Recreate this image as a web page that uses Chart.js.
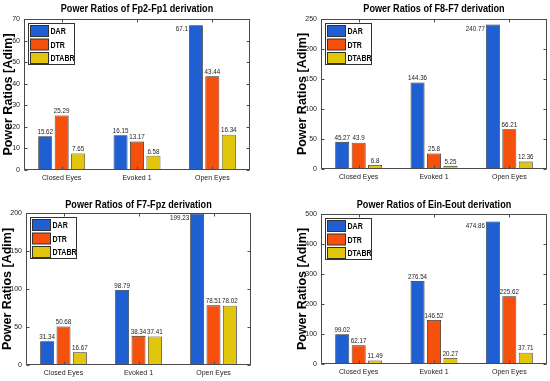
<!DOCTYPE html>
<html><head><meta charset="utf-8">
<script src="https://cdn.jsdelivr.net/npm/chart.js@4.4.1/dist/chart.umd.min.js"></script>
<style>
html,body{margin:0;padding:0;background:#fff;width:550px;height:381px;overflow:hidden;position:relative}
canvas{position:absolute}
</style></head><body>
<canvas id="c1" width="275" height="190" style="left:0;top:0;width:275px;height:190px"></canvas>
<canvas id="c2" width="275" height="190" style="left:275px;top:0;width:275px;height:190px"></canvas>
<canvas id="c3" width="275" height="191" style="left:0;top:190px;width:275px;height:191px"></canvas>
<canvas id="c4" width="275" height="191" style="left:275px;top:190px;width:275px;height:191px"></canvas>
<script>
// ---------- data ----------
const categories = ['Closed Eyes', 'Evoked 1', 'Open Eyes'];
const seriesNames = ['DAR', 'DTR', 'DTABR'];
const yAxisTitle = 'Power Ratios [Adim]';

const fp2Fp1Title = 'Power Ratios of Fp2-Fp1 derivation';
const fp2Fp1DAR = [15.62, 16.15, 67.1];
const fp2Fp1DTR = [25.29, 13.17, 43.44];
const fp2Fp1DTABR = [7.65, 6.58, 16.34];
const fp2Fp1Ticks = [0, 10, 20, 30, 40, 50, 60, 70];

const f8F7Title = 'Power Ratios of F8-F7 derivation';
const f8F7DAR = [45.27, 144.36, 240.77];
const f8F7DTR = [43.9, 25.8, 66.21];
const f8F7DTABR = [6.8, 5.25, 12.36];
const f8F7Ticks = [0, 50, 100, 150, 200, 250];

const f7FpzTitle = 'Power Ratios of F7-Fpz derivation';
const f7FpzDAR = [31.34, 98.79, 199.23];
const f7FpzDTR = [50.68, 38.34, 78.51];
const f7FpzDTABR = [16.67, 37.41, 78.02];
const f7FpzTicks = [0, 50, 100, 150, 200];

const einEoutTitle = 'Power Ratios of Ein-Eout derivation';
const einEoutDAR = [99.02, 276.54, 474.86];
const einEoutDTR = [62.17, 146.52, 225.62];
const einEoutDTABR = [11.49, 20.27, 37.71];
const einEoutTicks = [0, 100, 200, 300, 400, 500];

// ---------- styles ----------
const seriesColors = ['#1f5fd2', '#f5500c', '#e2c60c'];
const SANS = "'Liberation Sans',Arial,Helvetica,sans-serif";

function squeezeText(ctx, txt, x, y, sx) {
  ctx.save();
  ctx.translate(x, y);
  ctx.scale(sx, 1);
  ctx.fillText(txt, 0, 0);
  ctx.restore();
}

const framePlugin = {
  id: 'frame',
  afterDatasetsDraw(chart, args, opts) {
    const {ctx, chartArea: a, scales: {x, y}} = chart;
    ctx.save();
    // value labels
    ctx.font = '8px ' + SANS;
    ctx.fillStyle = '#222';
    chart.data.datasets.forEach((ds, di) => {
      chart.getDatasetMeta(di).data.forEach((bar, i) => {
        const txt = String(ds.data[i]);
        if (bar.y - 10 < a.top) {
          ctx.textAlign = 'right'; ctx.textBaseline = 'middle';
          squeezeText(ctx, txt, bar.x - bar.width / 2 - 1, bar.y + 4, 0.78);
        } else {
          ctx.textAlign = 'center'; ctx.textBaseline = 'bottom';
          squeezeText(ctx, txt, bar.x, bar.y - 0.5, 0.78);
        }
      });
    });
    // box + inward ticks
    ctx.strokeStyle = '#4a4a4a';
    ctx.lineWidth = 1;
    const L = Math.round(a.left) + 0.5, R = Math.round(a.right) - 0.5;
    const T = Math.round(a.top) + 0.5, B = Math.round(a.bottom) - 0.5;
    ctx.strokeRect(L, T, R - L, B - T);
    ctx.beginPath();
    y.ticks.forEach((t, i) => {
      const py = Math.round(y.getPixelForTick(i)) + 0.5;
      ctx.moveTo(L, py); ctx.lineTo(L + 3, py);
      ctx.moveTo(R, py); ctx.lineTo(R - 3, py);
    });
    x.ticks.forEach((t, i) => {
      const px = Math.round(x.getPixelForTick(i)) + 0.5;
      ctx.moveTo(px, B); ctx.lineTo(px, B - 3);
      ctx.moveTo(px, T); ctx.lineTo(px, T + 3);
    });
    ctx.stroke();
    ctx.restore();
  },
  afterDraw(chart, args, opts) {
    const {ctx, chartArea: a} = chart;
    ctx.save();
    // title
    ctx.fillStyle = '#000';
    ctx.font = 'bold 11.5px ' + SANS;
    ctx.textAlign = 'center'; ctx.textBaseline = 'middle';
    squeezeText(ctx, opts.title, (a.left + a.right) / 2, opts.titleCY, 0.79);
    // legend
    const lx = Math.round(a.left) + 4.5, ly = Math.round(a.top) + 4.5;
    const w = 46, h = 41;
    ctx.fillStyle = '#fff';
    ctx.fillRect(lx, ly, w, h);
    ctx.strokeStyle = '#333';
    ctx.lineWidth = 1;
    ctx.strokeRect(lx, ly, w, h);
    ctx.font = 'bold 9.5px ' + SANS;
    ctx.textAlign = 'left'; ctx.textBaseline = 'middle';
    chart.data.datasets.forEach((ds, i) => {
      const sy = ly + 2 + i * 13.5;
      ctx.fillStyle = ds.backgroundColor;
      ctx.fillRect(lx + 2, sy, 18, 11);
      ctx.strokeStyle = '#333';
      ctx.strokeRect(lx + 2, sy, 18, 11);
      ctx.fillStyle = '#000';
      squeezeText(ctx, ds.label, lx + 22, sy + 6, 0.74);
    });
    ctx.restore();
  }
};

function makePanel(id, title, series, ticks, g) {
  const canvas = document.getElementById(id);
  const W = canvas.width, H = canvas.height;
  const ySize = 12.5, yLH = ySize * 1.2;
  new Chart(canvas, {
    type: 'bar',
    data: {
      labels: categories,
      datasets: series.map((vals, i) => ({
        label: seriesNames[i],
        data: vals,
        backgroundColor: seriesColors[i],
        borderColor: '#2a2a2a',
        borderWidth: 0.8,
        borderSkipped: false,
        categoryPercentage: 0.655,
        barPercentage: 0.85
      }))
    },
    options: {
      responsive: false,
      animation: false,
      devicePixelRatio: 1,
      layout: {padding: {left: g.padL, right: W - g.right, top: g.top, bottom: 0}},
      plugins: {
        legend: {display: false},
        tooltip: {enabled: false},
        title: {display: false, text: title},
        frame: {title: title, titleCY: g.titleCY}
      },
      scales: {
        x: {
          grid: {display: false, drawTicks: false}, border: {display: false},
          ticks: {color: '#222', padding: 4, font: {family: SANS, size: 7}, maxRotation: 0},
          afterFit: s => { s.height = H - g.bottom; }
        },
        y: {
          min: ticks[0], max: ticks[ticks.length - 1],
          grid: {display: false, drawTicks: false}, border: {display: false},
          ticks: {color: '#222', padding: 4, font: {family: SANS, size: 7}},
          afterBuildTicks: s => { s.ticks = ticks.map(v => ({value: v})); },
          title: {
            display: true, text: yAxisTitle, color: '#000',
            font: {family: SANS, size: ySize, weight: 'bold', lineHeight: 1.2},
            padding: {top: g.yTitleX - g.padL - yLH / 2, bottom: 0}
          },
          afterFit: s => { s.width = g.left - g.padL; }
        }
      }
    },
    plugins: [framePlugin]
  });
}

makePanel('c1', fp2Fp1Title, [fp2Fp1DAR, fp2Fp1DTR, fp2Fp1DTABR], fp2Fp1Ticks,
  {left: 24, right: 250, top: 19, bottom: 170, padL: 0, titleCY: 9, yTitleX: 9});
makePanel('c2', f8F7Title, [f8F7DAR, f8F7DTR, f8F7DTABR], f8F7Ticks,
  {left: 46, right: 272, top: 19, bottom: 169, padL: 19, titleCY: 9, yTitleX: 28});
makePanel('c3', f7FpzTitle, [f7FpzDAR, f7FpzDTR, f7FpzDTABR], f7FpzTicks,
  {left: 26, right: 251, top: 23, bottom: 175, padL: 0, titleCY: 15, yTitleX: 8});
makePanel('c4', einEoutTitle, [einEoutDAR, einEoutDTR, einEoutDTABR], einEoutTicks,
  {left: 46, right: 272, top: 24, bottom: 174, padL: 19, titleCY: 15, yTitleX: 28});
</script>
</body></html>
